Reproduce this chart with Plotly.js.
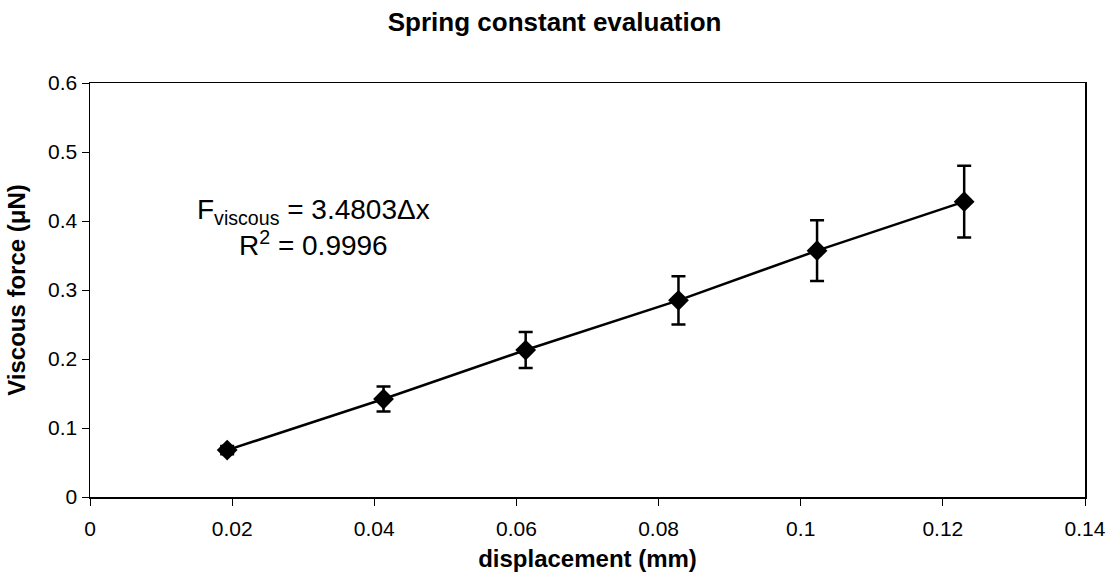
<!DOCTYPE html>
<html>
<head>
<meta charset="utf-8">
<script src="https://cdn.plot.ly/plotly-3.0.1.min.js"></script>
<style>html,body{margin:0;padding:0;background:#fff;}#chart{width:1116px;height:579px;}</style>
</head>
<body>
<div id="chart"></div>
<script>
const displacement = [0.0193, 0.0413, 0.0613, 0.0828, 0.1023, 0.123];
const viscousForce = [0.068, 0.142, 0.213, 0.285, 0.357, 0.428];
const errorForce = [0.006, 0.018, 0.026, 0.035, 0.044, 0.052];
const xTicks = [0, 0.02, 0.04, 0.06, 0.08, 0.1, 0.12, 0.14];
const xTickLabels = ["0", "0.02", "0.04", "0.06", "0.08", "0.1", "0.12", "0.14"];
const yTicks = [0, 0.1, 0.2, 0.3, 0.4, 0.5, 0.6];
const yTickLabels = ["0", "0.1", "0.2", "0.3", "0.4", "0.5", "0.6"];

const font = "Liberation Sans, Arial, sans-serif";

const trace = {
  x: displacement,
  y: viscousForce,
  type: 'scatter',
  mode: 'lines+markers',
  line: {color: '#000', width: 2.5},
  marker: {symbol: 'diamond', size: 16, color: '#000'},
  error_y: {type: 'data', array: errorForce, visible: true, color: '#000', thickness: 2.5, width: 7},
  showlegend: false,
  hoverinfo: 'none'
};

const layout = {
  width: 1116,
  height: 579,
  paper_bgcolor: '#fff',
  plot_bgcolor: '#fff',
  margin: {l: 90, r: 31, t: 83, b: 82},
  title: {
    text: '<b>Spring constant evaluation</b>',
    font: {family: font, size: 26, color: '#000'},
    x: 0.497, xref: 'container', y: 0.962, yref: 'container', yanchor: 'middle'
  },
  xaxis: {
    range: [0, 0.14],
    tickvals: xTicks, ticktext: xTickLabels,
    ticks: 'outside', ticklen: 7, tickwidth: 1, tickcolor: '#000',
    ticklabelstandoff: 5,
    showline: true, linecolor: '#000', linewidth: 1.5, mirror: true,
    showgrid: false, zeroline: false,
    tickfont: {family: font, size: 21, color: '#000'},
    title: {text: '<b>displacement (mm)</b>', font: {family: font, size: 24, color: '#000'}, standoff: 11}
  },
  yaxis: {
    range: [0, 0.6],
    tickvals: yTicks, ticktext: yTickLabels,
    ticks: 'outside', ticklen: 7, tickwidth: 1, tickcolor: '#000',
    showline: true, linecolor: '#000', linewidth: 1.5, mirror: true,
    showgrid: false, zeroline: false,
    tickfont: {family: font, size: 21, color: '#000'},
    title: {text: '<b>Viscous force (μN)</b>', font: {family: font, size: 24, color: '#000'}, standoff: 15}
  },
  annotations: [
    {
      text: 'F<sub>viscous</sub> = 3.4803Δx<br>R<sup>2</sup> = 0.9996',
      xref: 'paper', yref: 'paper', x: 0.225, y: 0.651,
      showarrow: false, align: 'center',
      font: {family: font, size: 28, color: '#000'},
      xanchor: 'center', yanchor: 'middle'
    }
  ]
};

Plotly.newPlot('chart', [trace], layout, {displayModeBar: false, staticPlot: true});
</script>
</body>
</html>
